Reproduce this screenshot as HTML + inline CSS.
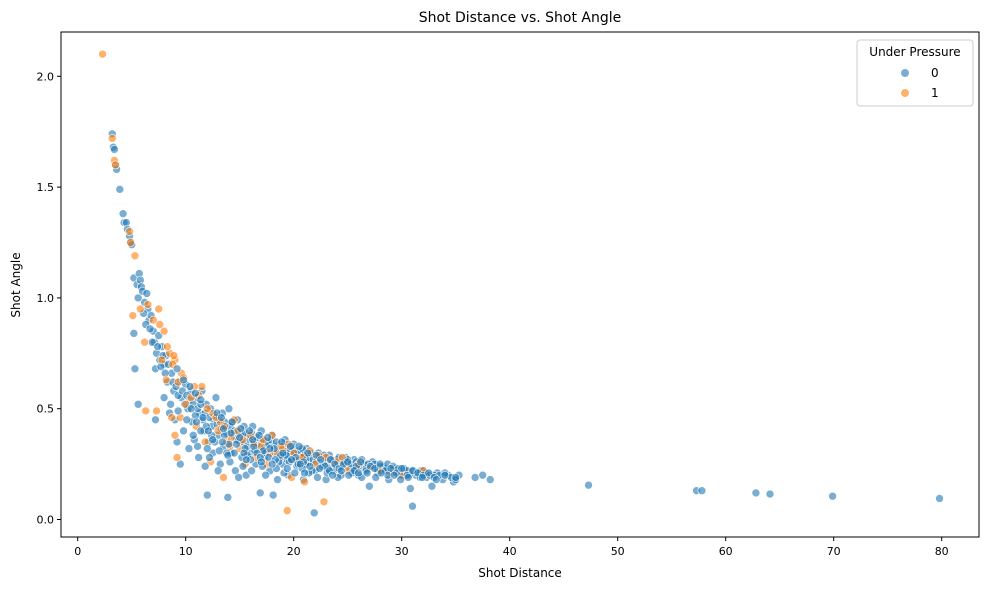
<!DOCTYPE html>
<html><head><meta charset="utf-8"><style>
body{margin:0;background:#fff;font-family:"Liberation Sans","DejaVu Sans",sans-serif;}
svg text{font-family:"DejaVu Sans","Liberation Sans",sans-serif;}
</style></head><body>
<svg id="chart" width="989" height="590" xmlns="http://www.w3.org/2000/svg">
<rect width="989" height="590" fill="#fff"/>
<g id="ptsB"></g><g id="ptsO"></g><g id="ptsB2"></g>
<rect x="61" y="32" width="918" height="505" fill="none" stroke="#000" stroke-width="1"/>
<g id="xt"></g><g id="yt"></g>
<text x="520" y="22" font-size="14" text-anchor="middle">Shot Distance vs. Shot Angle</text>
<text x="520" y="577" font-size="12" text-anchor="middle">Shot Distance</text>
<text x="20" y="285" font-size="12" text-anchor="middle" transform="rotate(-90 20 285)">Shot Angle</text>
<g>
<rect x="857" y="40" width="116" height="66" fill="#fff" fill-opacity="0.8" stroke="#ccc" rx="3"/>
<text x="915" y="56" font-size="12" text-anchor="middle">Under Pressure</text>
<circle cx="905" cy="73" r="4" fill="#1f77b4" fill-opacity="0.6"/>
<text x="931" y="77" font-size="12">0</text>
<circle cx="905" cy="93" r="4" fill="#ff7f0e" fill-opacity="0.6"/>
<text x="931" y="97" font-size="12">1</text>
</g>
</svg>
<script>
const xTicks=[0,10,20,30,40,50,60,70,80];
const yTicks=[0.0,0.5,1.0,1.5,2.0];
const blue=[[3.2,1.74],[3.3,1.68],[3.4,1.67],[3.5,1.60],[3.6,1.58],[3.9,1.49],[4.2,1.38],[4.3,1.34],[4.5,1.34],[4.6,1.31],[4.8,1.28],[4.9,1.25],[5.0,1.24],[5.2,1.09],[5.5,1.06],[5.6,1.0],[5.7,1.11],[5.8,1.08],[5.9,1.05],[6.0,1.03],[6.2,0.98],[6.4,1.02],[6.5,0.95],[6.6,0.9],[6.8,0.92],[7.0,0.85],[7.1,0.80],[7.3,0.75],[7.5,0.83],[7.2,0.68],[7.6,0.72],[7.8,0.78],[8.0,0.7],[8.2,0.74],[5.2,0.84],[5.3,0.68],[5.6,0.52],[7.2,0.45],[8.0,0.55],[8.3,0.62],[8.5,0.48],[8.7,0.66],[8.9,0.58],[9.0,0.45],[9.2,0.35],[9.4,0.62],[9.5,0.25],[9.6,0.55],[9.8,0.40],[10.0,0.61],[10.2,0.5],[10.3,0.32],[10.5,0.58],[10.6,0.44],[10.8,0.36],[11.0,0.55],[11.2,0.28],[11.3,0.48],[11.5,0.58],[11.7,0.40],[11.9,0.52],[12.0,0.11],[12.1,0.35],[12.3,0.5],[12.5,0.30],[12.6,0.45],[12.8,0.55],[13.0,0.38],[13.2,0.25],[13.4,0.48],[13.5,0.33],[13.7,0.42],[13.9,0.1],[14.0,0.5],[14.2,0.30],[14.4,0.38],[14.6,0.22],[14.8,0.45],[15.0,0.35],[15.2,0.28],[15.4,0.42],[15.6,0.2],[15.8,0.38],[16.0,0.3],[16.2,0.42],[16.5,0.25],[16.7,0.35],[16.9,0.12],[17.0,0.40],[17.3,0.28],[17.5,0.35],[17.8,0.22],[18.0,0.38],[18.1,0.11],[18.3,0.3],[18.5,0.18],[18.7,0.34],[19.0,0.25],[19.2,0.36],[19.5,0.2],[19.8,0.3],[20.0,0.34],[20.3,0.24],[20.6,0.3],[20.9,0.18],[21.2,0.32],[21.5,0.26],[21.9,0.03],[22.0,0.22],[22.3,0.3],[22.7,0.25],[23.0,0.18],[23.3,0.29],[23.7,0.22],[24.0,0.27],[24.4,0.2],[24.8,0.28],[25.2,0.23],[25.6,0.27],[26.0,0.2],[26.5,0.25],[27.0,0.15],[27.3,0.26],[27.8,0.21],[28.3,0.24],[28.8,0.18],[29.3,0.23],[29.8,0.2],[30.3,0.22],[30.8,0.14],[31.0,0.06],[31.3,0.2],[31.8,0.22],[32.3,0.19],[32.8,0.15],[33.3,0.21],[33.8,0.18],[34.3,0.2],[34.8,0.17],[35.3,0.2],[36.8,0.19],[37.5,0.2],[38.2,0.18],[47.3,0.155],[57.3,0.13],[57.8,0.13],[62.8,0.12],[64.1,0.115],[69.9,0.105],[79.8,0.095],
[6.1,0.93],[6.3,0.88],[6.7,0.86],[6.9,0.8],[7.4,0.78],[7.7,0.69],[7.9,0.74],[8.1,0.66],[8.4,0.70],[8.8,0.62],[9.1,0.6],[9.3,0.56],[9.7,0.58],[9.9,0.52],[10.1,0.56],[10.4,0.54],[10.7,0.52],[10.9,0.47],[11.1,0.5],[11.4,0.52],[11.6,0.45],[11.8,0.48],[12.2,0.46],[12.4,0.42],[12.7,0.47],[12.9,0.43],[13.1,0.45],[13.3,0.41],[13.6,0.44],[13.8,0.39],[14.1,0.42],[14.3,0.44],[14.5,0.4],[14.7,0.36],[14.9,0.4],[15.1,0.38],[15.3,0.35],[15.5,0.39],[15.7,0.33],[15.9,0.36],[16.1,0.39],[16.3,0.35],[16.4,0.31],[16.6,0.37],[16.8,0.33],[17.1,0.36],[17.2,0.32],[17.4,0.3],[17.6,0.34],[17.9,0.36],[18.2,0.33],[18.4,0.35],[18.6,0.31],[18.8,0.28],[19.1,0.33],[19.3,0.3],[19.4,0.27],[19.6,0.32],[19.9,0.33],[20.1,0.3],[20.2,0.27],[20.4,0.31],[20.7,0.28],[20.8,0.32],[21.0,0.29],[21.1,0.25],[21.3,0.28],[21.6,0.3],[21.8,0.27],[22.1,0.26],[22.4,0.28],[22.6,0.24],[22.8,0.29],[23.1,0.26],[23.2,0.23],[23.5,0.27],[23.9,0.25],[24.2,0.28],[24.5,0.24],[24.7,0.26],[25.0,0.27],[25.3,0.25],[25.5,0.22],[25.8,0.26],[26.1,0.24],[26.3,0.27],[26.7,0.23],[26.9,0.25],[27.2,0.24],[27.5,0.25],[27.7,0.23],[28.0,0.24],[28.2,0.22],[28.5,0.23],[28.7,0.25],[29.0,0.22],[29.2,0.24],[29.5,0.22],[29.7,0.23],[30.0,0.21],[30.2,0.23],[30.5,0.22],[30.7,0.2],[31.1,0.22],[31.5,0.21],[31.7,0.19],[32.0,0.22],[32.2,0.21],[32.6,0.2],[33.0,0.2],[33.5,0.2],[34.0,0.21],[34.6,0.19],[35.0,0.18]];
const orange=[[2.3,2.1],[3.2,1.72],[3.4,1.62],[3.5,1.6],[4.8,1.3],[4.9,1.25],[5.3,1.19],[5.1,0.92],[5.8,0.95],[6.2,0.8],[6.5,0.97],[6.3,0.49],[7.3,0.49],[7.0,0.9],[7.5,0.95],[7.8,0.72],[8.0,0.85],[8.2,0.63],[8.5,0.75],[8.7,0.46],[9.0,0.72],[9.2,0.28],[9.3,0.62],[9.0,0.38],[9.5,0.46],[10.0,0.52],[10.5,0.55],[11.0,0.42],[11.5,0.6],[11.8,0.35],[12.3,0.26],[12.5,0.48],[13.0,0.4],[13.5,0.19],[13.8,0.35],[14.2,0.37],[14.5,0.45],[15.0,0.32],[15.5,0.25],[16.0,0.38],[16.5,0.28],[17.0,0.33],[17.5,0.25],[18.0,0.38],[18.5,0.3],[19.0,0.32],[19.4,0.04],[19.8,0.19],[20.0,0.3],[20.5,0.27],[21.0,0.17],[21.5,0.31],[22.0,0.25],[22.8,0.08],[23.0,0.28],[24.0,0.26],[25.0,0.22],[26.0,0.25],[28.0,0.22],[30.0,0.2],[32.0,0.22],[8.8,0.7],[9.6,0.66],[10.8,0.6],[12.0,0.5],[13.2,0.44],[14.8,0.4],[17.2,0.36],[19.5,0.34],[24.5,0.28],[7.6,0.88],[8.3,0.78],[8.9,0.74],[9.8,0.64],[11.2,0.56],[12.8,0.46],[13.6,0.42],[14.1,0.33],[15.3,0.36],[16.3,0.34],[17.8,0.3],[18.8,0.33],[20.8,0.28],[22.3,0.29],[27.0,0.23],[29.0,0.21]];
const blue2=[[9.2,0.68],[9.8,0.63],[10.4,0.6],[10.9,0.57],[11.4,0.54],[11.9,0.42],[12.4,0.38],[12.9,0.48],[13.3,0.46],[13.8,0.30],[14.3,0.44],[14.7,0.34],[15.1,0.41],[15.5,0.32],[15.9,0.40],[16.3,0.33],[16.8,0.38],[17.2,0.31],[17.6,0.37],[18.2,0.32],[18.6,0.26],[18.9,0.35],[19.3,0.29],[19.7,0.33],[20.2,0.28],[20.5,0.33],[20.9,0.26],[21.3,0.30],[21.7,0.22],[22.1,0.29],[22.5,0.27],[22.9,0.24],[23.4,0.27],[23.8,0.25],[24.2,0.23],[24.6,0.25],[25.0,0.26],[25.4,0.21],[25.8,0.24],[26.2,0.26],[26.7,0.22],[27.1,0.24],[27.5,0.23],[28.0,0.25],[28.5,0.22],[29.0,0.23],[29.5,0.21],[30.0,0.23],[30.5,0.2],[31.0,0.22],[31.5,0.21],[32.0,0.2],[32.5,0.21],[33.0,0.19],[34.0,0.2],[35.0,0.19],[10.1,0.45],[10.7,0.38],[11.1,0.33],[11.6,0.46],[12.2,0.28],[12.7,0.35],[13.1,0.31],[13.6,0.38],[14.1,0.26],[14.5,0.30],[15.3,0.24],[15.7,0.29],[16.1,0.22],[16.6,0.30],[17.1,0.24],[17.7,0.28],[18.4,0.23],[19.1,0.21],[19.6,0.26],[20.1,0.21],[20.8,0.23],[21.4,0.21],[22.2,0.19],[23.1,0.21],[24.1,0.19],[25.1,0.2],[26.3,0.19],[27.6,0.19],[28.7,0.2],[29.9,0.18],[8.6,0.52],[9.3,0.49],[11.8,0.24],[13.0,0.22],[14.9,0.19],[17.4,0.2],[16.0,0.27],[18.8,0.29],[20.4,0.25],[12.0,0.32],[11.4,0.4],[10.5,0.5],[14.0,0.34],[15.0,0.37],[13.5,0.41],
[12.5,0.36],[13.4,0.35],[14.2,0.39],[15.4,0.3],[16.2,0.36],[16.9,0.28],[17.8,0.32],[18.3,0.27],[19.0,0.3],[19.8,0.27],[20.6,0.25],[21.5,0.24],[22.4,0.23],[23.3,0.22],[24.4,0.22],[25.6,0.22],[26.8,0.21],[28.1,0.21],[29.3,0.2],[30.6,0.19],[31.9,0.19],[33.2,0.18],[11.0,0.44],[12.1,0.4],[13.9,0.29],[15.6,0.27],[17.0,0.26],[18.0,0.25],[19.4,0.23],[21.0,0.21],[23.6,0.2],[26.0,0.21]];
const X=v=>77.7+v*10.8, Y=v=>519.5-v*221.6;
const ns='http://www.w3.org/2000/svg';
function dots(gid,arr,col,name){const g=document.getElementById(gid);arr.forEach(p=>{const c=document.createElementNS(ns,'circle');


c.setAttribute('cx',X(p[0]));c.setAttribute('cy',Y(p[1]));c.setAttribute('r',4);c.setAttribute('fill',col);c.setAttribute('fill-opacity',0.6);c.setAttribute('stroke','#fff');c.setAttribute('stroke-width',0.6);g.appendChild(c);});}
dots('ptsB',blue,'#1f77b4','point-pressure-0');
dots('ptsO',orange,'#ff7f0e','point-pressure-1');
dots('ptsB2',blue2,'#1f77b4','point-pressure-0');
const xt=document.getElementById('xt');
xTicks.forEach(v=>{const l=document.createElementNS(ns,'line');l.setAttribute('x1',X(v));l.setAttribute('x2',X(v));l.setAttribute('y1',537);l.setAttribute('y2',541);l.setAttribute('stroke','#000');xt.appendChild(l);
const t=document.createElementNS(ns,'text');


t.setAttribute('x',X(v));t.setAttribute('y',555);t.setAttribute('font-size',11);t.setAttribute('text-anchor','middle');t.textContent=v;xt.appendChild(t);});
const yt=document.getElementById('yt');
yTicks.forEach(v=>{const l=document.createElementNS(ns,'line');l.setAttribute('x1',57);l.setAttribute('x2',61);l.setAttribute('y1',Y(v));l.setAttribute('y2',Y(v));l.setAttribute('stroke','#000');yt.appendChild(l);
const t=document.createElementNS(ns,'text');


t.setAttribute('x',54);t.setAttribute('y',Y(v)+4);t.setAttribute('font-size',11);t.setAttribute('text-anchor','end');t.textContent=v.toFixed(1);yt.appendChild(t);});
</script>
</body></html>
